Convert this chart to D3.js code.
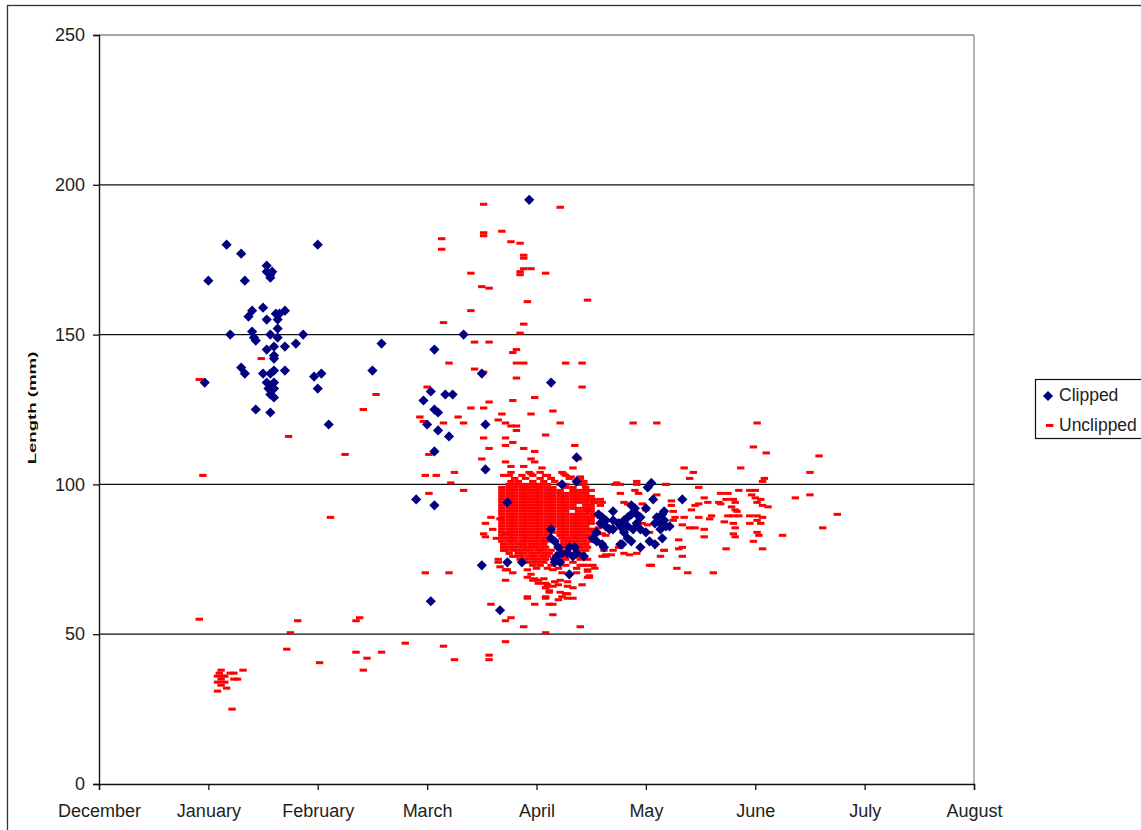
<!DOCTYPE html>
<html>
<head>
<meta charset="utf-8">
<script src="https://cdn.jsdelivr.net/npm/d3@7"></script>
<style>
  body { margin: 0; background: #fff; }
  svg { display: block; font-family: "Liberation Sans", Arial, sans-serif; }
</style>
</head>
<body>
<svg id="chart" width="1141" height="830"></svg>
<script>
// Axis categories and ticks (x in days from 1 December, y in mm)
const monthLabels = ["December", "January", "February", "March", "April", "May", "June", "July", "August"];
const monthTickDays = [0, 30, 60, 90, 120, 150, 180, 210, 240];
const lengthTicks = [0, 50, 100, 150, 200, 250];
const gridValues = [50, 100, 150, 200];
const seriesNames = ["Clipped", "Unclipped"];

// Clipped fish: [day, length mm]
const clipped = [
  [29,134],[30,168],[35,180],[36,150],[39,177],[39,139],[40,137],[40,168],[41,156],[42,158],[42,151],[42.5,149],
  [43,148],[43,125],[45,137],[45,159],[46,173],[46,155],[46,145],[47,137],[46,171],[47,170],[47.5,171],[47,169],
  [47,150],[47,124],[47,130],[48,143],[48,146],[48,138],[48,142],[48,129],[46,134],[47,133],[48,134],[48,132],
  [46.5,132],[48.5,157],[49,155],[49,152],[49.5,157],[49,149],[51,158],[51,146],[51,138],[54,147],[56,150],
  [59,136],[60,180],[60,132],[61,137],[63,120],[75,138],[77.5,147],
  [87,95],[89,128],[90,120],[91,131],[91,61],[92,145],[92,125],[93,124],[93,118],[92,111],[95,130],[97,130],
  [96,116],[92,93],[100,150],[105,137],[106,120],[106,105],[105,73],[110,58],[112,74],[112,94],[118,195],
  [124,134],[127,100],[131,101],[131,109],[116,74],[125,74],[126.5,74],[129,70],
  [124,85],[124,82],[125,81],[126,79],[127,77],[125.5,76],[125,75],[128.5,77],[129,79],[130.5,79],[131,77],
  [130,76],[133,76],
  [136.5,81],[138,80],[138.5,79],[137,90],[138,89],[137.5,87],[139,86],[139,88],[141,91],[141,85],[143,86],
  [143,80],[144,88],[145,89],[145,86],[145,82],[146,81],[146,93],[146,90],[146.5,85],[147,92],[147.5,90],
  [147.5,87],[148.5,89],[148.5,85],[148.5,79],[150,92],[150,84],[150.5,99],[151.5,100.5],[151,81],[152,95],
  [152.5,80],[152.5,87],[153,89],[154,87],[154,85],[154.5,90],[154.5,82],[155,91],[155,88],[155.5,86],
  [156.5,86],[160,95],[135.5,82],[136.5,84],[141,88],[142.5,87],[140,85],[144,84],[143.5,80]
];

// Unclipped fish, scattered records: [day, length mm]
const unclipped = [
  [27.5,135],[28.5,103],[27.5,55],[44.5,142],[52,116],[67.5,110],[76,130],[72.5,125],[63.5,89],[54.5,54.5],
  [70.5,54.5],[71.5,55.5],[52.5,50.5],[84,47],[51.5,45],[70.5,44],[77.5,44],[73.5,42],[60.5,40.5],[72.5,38],
  [39.5,38],[33.5,38],[33,37],[34,36],[36,37],[37,37],[32.5,36],[34.5,36],[37,35],[38,35],[33.5,35],[32.5,34],
  [34.5,34],[33.5,33],[35,32],[32.5,31],[36.5,25],
  [89.5,103],[90.5,97],[89.5,70.5],
  [117.5,161],[134,161.5],[102,158],[94.5,154],[116.5,153.5],[115.5,150.5],[103,147.5],[107,147.5],[114.5,145],
  [113.5,144],[96,140.5],[114.5,140.5],[116.5,140.5],[128,140.5],[132.5,140.5],[103,138.5],[105.5,137.5],
  [114.5,135.5],[132.5,132.5],[90,132.5],[113.5,128],[119.5,129],[107,127.5],[102,125.5],[105.5,125.5],
  [124.5,124.5],[110.5,123.5],[118.5,123.5],[88,122.5],[89,121],[98.5,122.5],[109.5,121.5],[100,120.5],
  [94.5,120.5],[111.5,120.5],[113,119.5],[114.5,119.5],[114.5,118],[126.5,120.5],[122.5,116.5],[105.5,115.5],
  [111.5,115.5],[107,112],[111.5,113],[113.5,114],[116.5,112],[130.5,113],[119.5,111],[90.5,110],[105,108.5],
  [118.5,108.5],[119.5,107.5],[111.5,107.5],[113,106],[116.5,106],[121.5,105.5],[130,105.5],[131.5,108.5],
  [92.5,103],[97.5,104],[112.5,103],[96.5,100.5],[100,98],
  [105.5,193.5],[126.5,192.5],[110.5,184.5],[105.5,183],[105.5,184],[94,182],[94,178.5],[113,181],[115.5,180.5],
  [116.5,175.5],[116.5,176.5],[116.5,172],[118.5,172],[115.5,171],[115.5,170],[122.5,170.5],[102,170.5],
  [105,166],[107,165.5],
  [96,70.5],[109.5,74],[111.5,71.5],[113.5,70.5],[111.5,68],[122.5,67],[122.5,65.5],[123.5,64.5],[124.5,66],
  [126,66.5],[128,63.5],[117.5,62],[122.5,62],[126,61.5],[123.5,60],[124.5,60],[128.5,62],[130,62],[119.5,60],
  [107.5,60],[124.5,56.5],[111.5,54.5],[113,55.5],[116.5,52.5],[132,52.5],[122.5,50.5],[111.5,47.5],[94.5,46],
  [107,43],[107,41.5],[97.5,41.5],
  [117.5,71.5],[118.5,70],[119.5,68.5],[120.5,68],[122,68.5],[123,72],[124.5,71.5],[127,70.5],[128.5,67.5],
  [131,70.5],[133,73],[134,71.5],[134.5,69.5],[132.5,66.5],[134,73],
  [118.5,103.5],[122.5,103],[124,102],[127.5,103.5],[129.5,102.5],[132,102.5],[133,100],[142,100.5],[147.5,101],
  [155.5,100],[143,97],[147,98],[148,97],[153,96.5],[157,94.5],[157,93],[136,94],[138,94],[137.5,93],[144,94],
  [145,93.5],[149,93.5],[150,91.5],[136,89.5],[137.5,89],[157.5,91],[158,89],
  [107.5,89],[110,88.5],[106,87],[108,85],[106,82.5],[109,82],[111.5,83.5],[105.5,83.5],[111,78],[113.5,76],
  [109.5,75],[110,72.5],[112,71.5],
  [117.5,69],[119,68],[120.5,67],[123,66.5],[125,67.5],[126.5,68],[128.5,66],[130,65.5],[122.5,65.5],
  [123.5,64],[126.5,64],[128.5,63.5],[127,62.5],[117.5,62.5],[122.5,62.5],
  [134,69],[134,71],[138,76],[139,76.5],[135.5,85],[137,85.5],[138,83.5],[139,83],[140,85],[155,78],[151,73],
  [144,77],[145.5,76.5],[147.5,77],[141,78],[142.5,79],[140.5,76.5],
  [138.5,88],[140.5,86],[144,84],[142.5,88],[145.5,86],[149,87],[150.5,86.5],[151,84],
  [146.5,120.5],[153,120.5],[180.5,120.5],
  [179.5,112.5],[183,110.5],[197.5,109.5],[160.5,105.5],[163,104],[176,105.5],[195,104],[162,102],[182.5,102],
  [182,101],[141.5,100],[143,100],[147.5,100],[155.5,100],[164.5,99],[178.5,98],[180,98],[170.5,97],
  [172.5,97],[175.5,98],[195,96.5],[191,95.5],[166,95.5],[167,94],[170,94],[170.5,93.5],[172,95],[174,95],
  [174.5,94],[179,96.5],[180,95.5],[180.5,94],[181.5,95],[182,93],[183.5,92.5],[173.5,92.5],[174.5,91.5],
  [175,91],[174,89.5],[175.5,89.5],[172.5,89.5],[168,89.5],[167.5,88.5],[163.5,93],[164.5,93.5],[162.5,91.5],
  [160.5,89],[164.5,89],[157.5,88],[156.5,86],[160,86.5],[162,85.5],[163.5,85.5],[166,85],[166,82.5],
  [171.5,87.5],[174,87],[174.5,85.5],[174,83.5],[174.5,82.5],[178.5,87],[181.5,87],[180.5,88],[178.5,89.5],
  [180.5,89.5],[182,89],[180.5,84],[181,83],[179.5,81],[182,78.5],[172,78.5],[187.5,83],[198.5,85.5],
  [202.5,90],[159,81.5],[160,79],[159,78.5],[155,78],[154,76],[160,76],[151.5,73],[158.5,72],[161.5,70.5],
  [168.5,70.5],[138.5,78],[139,76],[134,75],[135.5,73],[136,72],[134.5,69],[135.5,95],[137.5,95],[134,91.5]
];

// Unclipped fish in the early-April peak, grouped by length: [mm, [days]]
const unclippedPeak = [
  [104, [113, 118, 121, 127]],
  [103, [111, 116, 119, 123, 128]],
  [102, [114, 117, 121, 124, 129, 132]],
  [101, [113, 115, 119, 122, 125, 133]],
  [100, [112.5, 114, 116, 117.5, 119.5, 121, 123, 126.5, 128, 131.5]],
  [99, [110.5, 112.5, 114, 116, 117.5, 119.5, 121, 123, 124.5, 128, 130, 133.5]],
  [98, [110.5, 112.5, 114, 116, 117.5, 119.5, 121, 123, 124.5, 126.5, 130, 131.5, 133.5, 135]],
  [97, [110.5, 112.5, 114, 116, 117.5, 119.5, 121, 123, 124.5, 126.5, 128, 130, 131.5, 133.5]],
  [96, [110.5, 112.5, 114, 116, 117.5, 119.5, 121, 123, 124.5, 126.5, 128, 130, 131.5, 133.5, 135]],
  [95, [110.5, 112.5, 114, 116, 117.5, 119.5, 121, 123, 124.5, 126.5, 128, 130, 131.5, 133.5, 135]],
  [94, [110.5, 112.5, 114, 116, 117.5, 119.5, 121, 123, 124.5, 126.5, 128, 130, 131.5, 133.5, 135.5]],
  [93, [110.5, 112.5, 114, 116, 117.5, 119.5, 121, 123, 124.5, 126.5, 128, 130, 133.5, 135]],
  [92, [110.5, 112.5, 114, 116, 117.5, 119.5, 121, 123, 124.5, 126.5, 128, 130, 131.5, 133.5, 135]],
  [91, [110.5, 112.5, 114, 116, 117.5, 119.5, 121, 123, 124.5, 126.5, 128, 131.5, 133.5, 135]],
  [90, [110.5, 112.5, 114, 116, 117.5, 119.5, 121, 123, 124.5, 126.5, 128, 130, 131.5, 133.5, 135.5]],
  [89, [110.5, 112.5, 114, 116, 117.5, 119.5, 121, 123, 124.5, 126.5, 128, 130, 131.5, 133.5, 135]],
  [88, [110.5, 112.5, 114, 116, 117.5, 119.5, 121, 123, 124.5, 126.5, 128, 130, 131.5, 133.5, 135]],
  [87, [110.5, 112.5, 114, 116, 117.5, 119.5, 121, 123, 124.5, 126.5, 128, 130, 131.5, 133.5, 135]],
  [86, [110.5, 112.5, 114, 116, 117.5, 119.5, 121, 123, 124.5, 126.5, 128, 130, 131.5, 133.5]],
  [85, [110.5, 112.5, 114, 116, 117.5, 119.5, 121, 123, 126.5, 128, 130, 131.5, 133.5, 135]],
  [84, [110.5, 112.5, 114, 116, 117.5, 119.5, 121, 123, 124.5, 126.5, 128, 130, 131.5, 133.5, 135.5]],
  [83, [110.5, 112.5, 114, 116, 117.5, 119.5, 121, 123, 126.5, 128, 130, 131.5, 133.5, 135]],
  [82, [111, 112.5, 114, 116, 117.5, 119.5, 121, 122.5, 127, 128.5, 130.5, 132, 134]],
  [81, [110.5, 112.5, 114, 116, 117.5, 119.5, 121, 122.5, 127.5, 129, 131, 133, 135]],
  [80, [111, 113, 115, 116.5, 118.5, 120, 122, 127.5, 129.5, 131.5, 133.5]],
  [79, [111, 112.5, 114, 116, 117.5, 119.5, 121, 122.5, 128, 130, 132, 134]],
  [78, [111.5, 113.5, 115, 117, 118.5, 120.5, 122, 124, 128.5, 131.5, 133.5]],
  [77, [112.5, 115, 116.5, 118.5, 120, 122, 123.5, 126, 129.5, 132.5]],
  [76, [114, 116, 118, 119.5, 121.5, 123, 127.5, 131]],
  [75, [115.5, 117, 119, 120.5, 122.5, 128, 132]],
  [74, [118, 120, 122, 130]],
  [73, [119, 121, 124, 128, 132]],
  [72, [120, 126, 131]]
];

const W = 1141, H = 830;
const plot = { left: 99, right: 974, top: 35, bottom: 784 };

const svg = d3.select("#chart");
svg.append("rect").attr("width", W).attr("height", H).attr("fill", "#fff");

// outer chart frame
svg.append("rect")
  .attr("x", 7.5).attr("y", 5.5).attr("width", 1160).attr("height", 860)
  .attr("fill", "none").attr("stroke", "#333").attr("stroke-width", 1.3);

const x = d3.scaleLinear().domain([0, 240]).range([plot.left, plot.right]);
const y = d3.scaleLinear().domain([0, 250]).range([plot.bottom, plot.top]);

// plot area border (grey) and horizontal gridlines (black)
svg.append("line")
  .attr("x1", plot.left).attr("x2", plot.right).attr("y1", y(250)).attr("y2", y(250))
  .attr("stroke", "#8a8a8a").attr("stroke-width", 1.3);
svg.append("line")
  .attr("x1", plot.right).attr("x2", plot.right).attr("y1", plot.top).attr("y2", plot.bottom)
  .attr("stroke", "#8a8a8a").attr("stroke-width", 1.3);
svg.append("g").selectAll("line").data(gridValues).join("line")
  .attr("x1", plot.left).attr("x2", plot.right)
  .attr("y1", d => y(d)).attr("y2", d => y(d))
  .attr("stroke", "#111").attr("stroke-width", 1.3);

// unclipped dashes
const dashW = 7.4, dashH = 3;
const peakPoints = unclippedPeak.flatMap(([mm, days]) => days.map(d => [d, mm]));
const allUnclipped = unclipped.concat(peakPoints);
svg.append("g").attr("fill", "#ff0000")
  .selectAll("rect").data(allUnclipped).join("rect")
  .attr("x", d => x(d[0]) - dashW / 2).attr("y", d => y(d[1]) - dashH / 2)
  .attr("width", dashW).attr("height", dashH);

// clipped diamonds
const diamond = d3.symbol().type(d3.symbolSquare).size(52);
svg.append("g").attr("fill", "#000080")
  .selectAll("path").data(clipped).join("path")
  .attr("d", diamond)
  .attr("transform", d => `translate(${x(d[0])},${y(d[1])}) rotate(45)`);

// axes
const yAxis = d3.axisLeft(y).tickValues(lengthTicks).tickSize(6).tickPadding(8);
const gy = svg.append("g").attr("transform", `translate(${plot.left},0)`).call(yAxis);
gy.select(".domain").attr("stroke", "#111").attr("stroke-width", 1.4);
gy.selectAll(".tick line").attr("stroke", "#111").attr("stroke-width", 1.3);
gy.selectAll("text").attr("font-size", 18).attr("fill", "#222")
  .attr("font-family", "'Liberation Sans', Arial, sans-serif");

const xAxis = d3.axisBottom(x).tickValues(monthTickDays)
  .tickFormat((d, i) => monthLabels[i]).tickSize(6).tickPadding(14);
const gx = svg.append("g").attr("transform", `translate(0,${plot.bottom})`).call(xAxis);
gx.select(".domain").attr("stroke", "#111").attr("stroke-width", 1.4);
gx.selectAll(".tick line").attr("stroke", "#111").attr("stroke-width", 1.3);
gx.selectAll("text").attr("font-size", 18).attr("fill", "#222")
  .attr("font-family", "'Liberation Sans', Arial, sans-serif");

// y axis title (glyphs drawn elongated along the reading direction)
svg.append("text")
  .attr("transform", "translate(35.5,408) rotate(-90) scale(1.62,1)")
  .attr("text-anchor", "middle")
  .attr("font-size", 11.5).attr("font-weight", "bold")
  .attr("fill", "#111")
  .text("Length (mm)");

// legend
const legend = svg.append("g");
legend.append("rect")
  .attr("x", 1035.5).attr("y", 379.5).attr("width", 120).attr("height", 59)
  .attr("fill", "#fff").attr("stroke", "#111").attr("stroke-width", 1.2);
legend.append("path").attr("d", diamond)
  .attr("transform", "translate(1048,396) rotate(45)").attr("fill", "#000080");
legend.append("rect").attr("x", 1046).attr("y", 424).attr("width", dashW).attr("height", dashH)
  .attr("fill", "#ff0000");
legend.selectAll("text.lbl").data(seriesNames).join("text")
  .attr("class", "lbl")
  .attr("x", 1059).attr("y", (d, i) => 401 + i * 30)
  .attr("font-size", 17.5).attr("fill", "#222")
  .text(d => d);
</script>
</body>
</html>
